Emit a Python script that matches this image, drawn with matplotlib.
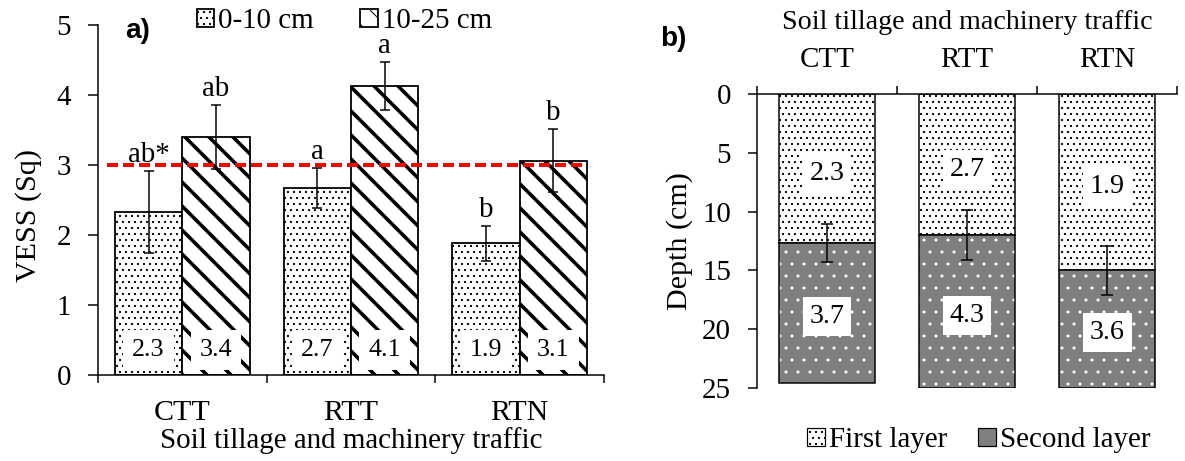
import matplotlib
matplotlib.use("Agg")
import matplotlib.pyplot as plt
from matplotlib.patches import Patch
import numpy as np

# ---------------- data ----------------
categories = ["CTT", "RTT", "RTN"]

# panel a) VESS scores by depth
vess_0_10 = [2.33, 2.67, 1.88]
vess_0_10_err = [0.58, 0.29, 0.25]
vess_10_25 = [3.40, 4.13, 3.06]
vess_10_25_err = [0.46, 0.345, 0.45]
letters_0_10 = ["ab*", "a", "b"]
letters_10_25 = ["ab", "a", "b"]
labels_0_10 = ["2.3", "2.7", "1.9"]
labels_10_25 = ["3.4", "4.1", "3.1"]
vess_threshold = 3.0
series_a = ["0-10 cm", "10-25 cm"]

# panel b) layer depths
first_layer_depth = [12.66, 12.0, 15.0]
second_layer_bottom = [24.6, 25.0, 25.0]
first_layer_err = [1.6, 2.1, 2.1]
labels_first = ["2.3", "2.7", "1.9"]
labels_second = ["3.7", "4.3", "3.6"]
series_b = ["First layer", "Second layer"]

# ---------------- style ----------------
plt.rcParams["font.family"] = ["Liberation Serif", "DejaVu Serif"]
W, H = 1185, 461
DPI = 72
fig = plt.figure(figsize=(W / DPI, H / DPI), dpi=DPI)


def set_hlw(patches, lw):
    for p in patches:
        try:
            p.set_hatch_linewidth(lw)
        except AttributeError:
            p._hatch_linewidth = lw


# ---------------- panel a ----------------
axA = fig.add_axes([98 / W, (H - 375) / H, 506 / W, 350 / H])
x = np.arange(len(categories))
bw = 0.4
b1 = axA.bar(x - bw / 2, vess_0_10, bw, facecolor="white", edgecolor="black",
             linewidth=1.8, hatch="..", zorder=2, label=series_a[0])
set_hlw(b1, 1.0)
b2 = axA.bar(x + bw / 2, vess_10_25, bw, facecolor="white", edgecolor="black",
             linewidth=1.8, hatch="\\", zorder=2, label=series_a[1])
set_hlw(b2, 3.6)

axA.errorbar(x - bw / 2, vess_0_10, yerr=vess_0_10_err, fmt="none", ecolor="black",
             elinewidth=1.5, capsize=5, capthick=1.5, zorder=4)
axA.errorbar(x + bw / 2, vess_10_25, yerr=vess_10_25_err, fmt="none", ecolor="black",
             elinewidth=1.5, capsize=5, capthick=1.5, zorder=4)

axA.axhline(vess_threshold, xmin=0.018, xmax=0.962, color="#ff0000", linewidth=4,
            dashes=(2.75, 1.25), zorder=3)

for xi, m, e, t in zip(x - bw / 2, vess_0_10, vess_0_10_err, letters_0_10):
    axA.annotate(t, (xi, m + e), xytext=(0, 9), textcoords="offset points",
                 ha="center", va="baseline", fontsize=29, zorder=6)
for xi, m, e, t in zip(x + bw / 2, vess_10_25, vess_10_25_err, letters_10_25):
    axA.annotate(t, (xi, m + e), xytext=(0, 9), textcoords="offset points",
                 ha="center", va="baseline", fontsize=29, zorder=6)

box_a = dict(boxstyle="square,pad=0.35", facecolor="white", edgecolor="none")
for xi, t in zip(x - bw / 2, labels_0_10):
    axA.text(xi, 0.36, t, ha="center", va="center", fontsize=26, bbox=box_a, zorder=7)
for xi, t in zip(x + bw / 2, labels_10_25):
    axA.text(xi, 0.36, t, ha="center", va="center", fontsize=26, bbox=box_a, zorder=7)

axA.set_xlim(-0.5, 2.5)
axA.set_ylim(0, 5)
axA.set_yticks(range(0, 6))
axA.set_xticks([-0.5, 0.5, 1.5, 2.5])
axA.set_xticks(x, minor=True)
axA.set_xticklabels(categories, minor=True)
axA.tick_params(axis="x", which="major", length=8, width=1.5, direction="out",
                labelbottom=False)
axA.tick_params(axis="x", which="minor", length=0, pad=25, labelsize=30)
axA.tick_params(axis="y", length=10, width=1.5, direction="out", pad=17, labelsize=29)
for s in ["top", "right"]:
    axA.spines[s].set_visible(False)
for s in ["left", "bottom"]:
    axA.spines[s].set_linewidth(1.5)
axA.set_xlabel("Soil tillage and machinery traffic", fontsize=29, labelpad=1.5)
axA.set_ylabel("VESS (Sq)", fontsize=30)
axA.yaxis.set_label_coords(-0.111, 0.457)
axA.yaxis.label.set_va("bottom")

fig.text(125 / W, (H - 38) / H, "a)", fontfamily="Liberation Sans", fontweight="bold",
         fontsize=28, ha="left", va="baseline")

fig.legend([b1, b2], series_a, ncol=2, loc="center",
           bbox_to_anchor=(344.5 / W, 1 - 21.5 / H), bbox_transform=fig.transFigure,
           frameon=False, handlelength=0.6, handleheight=0.6, handletextpad=0.15,
           columnspacing=1.6, fontsize=29, borderpad=0, borderaxespad=0)

# ---------------- panel b ----------------
axB = fig.add_axes([757 / W, (H - 388) / H, 420 / W, 294 / H])
bwb = 0.68
first = np.array(first_layer_depth)
second = np.array(second_layer_bottom)
p1 = axB.bar(x, first, bwb, bottom=0, facecolor="white", edgecolor="black",
             linewidth=1.5, hatch="..", zorder=2)
set_hlw(p1, 1.0)
p2 = axB.bar(x, second - first, bwb, bottom=first, facecolor="#7f7f7f",
             edgecolor="white", linewidth=0, hatch=".", zorder=2)
set_hlw(p2, 0.6)
axB.bar(x, second - first, bwb, bottom=first, fill=False, edgecolor="black",
        linewidth=1.5, zorder=3)

axB.errorbar(x, first, yerr=first_layer_err, fmt="none", ecolor="black",
             elinewidth=1.5, capsize=6, capthick=1.5, zorder=4)

box_b = dict(boxstyle="square,pad=0.25", facecolor="white", edgecolor="none")
for xi, d, t in zip(x, first, labels_first):
    axB.text(xi, d / 2 + 0.4, t, ha="center", va="center", fontsize=28, bbox=box_b, zorder=7)
for xi, d1, d2, t in zip(x, first, second, labels_second):
    axB.text(xi, (d1 + d2) / 2 + 0.3, t, ha="center", va="center", fontsize=28,
             bbox=box_b, zorder=7)

axB.set_xlim(-0.5, 2.5)
axB.set_ylim(25, 0)
axB.set_yticks(range(0, 26, 5))
axB.xaxis.tick_top()
axB.set_xticks([-0.5, 0.5, 1.5, 2.5])
axB.set_xticks(x, minor=True)
axB.set_xticklabels(categories, minor=True)
axB.tick_params(axis="x", which="major", top=True, bottom=False, length=8, width=1.5,
                direction="out", labeltop=False, labelbottom=False)
axB.tick_params(axis="x", which="minor", top=False, bottom=False, length=0,
                labeltop=True, labelbottom=False, pad=21, labelsize=29)
axB.tick_params(axis="y", length=9, width=1.5, direction="out", pad=17, labelsize=29)
for s in ["bottom", "right"]:
    axB.spines[s].set_visible(False)
for s in ["left", "top"]:
    axB.spines[s].set_linewidth(1.5)
axB.xaxis.set_label_position("top")
axB.set_xlabel("Soil tillage and machinery traffic", fontsize=28, labelpad=18)
axB.set_ylabel("Depth (cm)", fontsize=30, labelpad=9)

fig.text(660 / W, (H - 46) / H, "b)", fontfamily="Liberation Sans", fontweight="bold",
         fontsize=28, ha="left", va="baseline")

hb1 = Patch(facecolor="white", edgecolor="black", hatch="..", linewidth=1.2)
hb2 = Patch(facecolor="#7f7f7f", edgecolor="black", linewidth=1.2)
fig.legend([hb1, hb2], series_b, ncol=2, loc="center",
           bbox_to_anchor=(979 / W, 1 - 440 / H), bbox_transform=fig.transFigure,
           frameon=False, handlelength=0.6, handleheight=0.6, handletextpad=0.15,
           columnspacing=1.07, fontsize=29, borderpad=0, borderaxespad=0)

fig.savefig("out.png", dpi=DPI)
